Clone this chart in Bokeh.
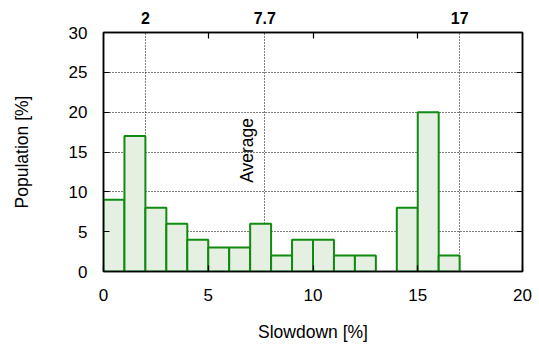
import math

from bokeh.core.properties import value
from bokeh.embed import file_html
from bokeh.models import ColumnDataSource, FixedTicker, LinearAxis, Range1d
from bokeh.plotting import figure
from bokeh.resources import INLINE

# Histogram of slowdown: 1 %-wide bins starting at these left edges
bin_left = list(range(0, 17))
population = [9, 17, 8, 6, 4, 3, 3, 6, 2, 4, 4, 2, 2, 0, 8, 20, 2]

# Marked slowdown values shown on the top axis
marks = [2, 7.7, 17]
mark_labels = ["2", "7.7", "17"]

x_ticks = [0, 5, 10, 15, 20]
y_ticks = [0, 5, 10, 15, 20, 25, 30]

avg_label_x = 6.85
avg_label_y = 15.2

FONT = "Liberation Sans"
TICK_SIZE = "17px"
TITLE_SIZE = "17.5px"

# empty bins are left out so no outline is drawn along the axis
kept = [(l, v) for l, v in zip(bin_left, population) if v > 0]
src = ColumnDataSource(dict(
    left=[l for l, _ in kept],
    right=[l + 1 for l, _ in kept],
    top=[v for _, v in kept],
    bottom=[0] * len(kept),
))

p = figure(
    width=539, height=347,
    output_backend="svg", toolbar_location=None,
    x_range=Range1d(0, 20), y_range=Range1d(0, 30),
    x_axis_location="below", y_axis_location="left",
    min_border_left=103, min_border_right=17,
    min_border_top=32, min_border_bottom=76,
)
p.background_fill_color = "white"
p.border_fill_color = "white"
p.outline_line_color = "black"
p.outline_line_width = 1.5

p.quad(left="left", right="right", top="top", bottom="bottom", source=src,
       fill_color="#e5f0e3", line_color="#108a10", line_width=2)

p.text(x=[avg_label_x], y=[avg_label_y], text=["Average"], angle=math.pi / 2,
       text_align="center", text_baseline="middle",
       text_font=value(FONT), text_font_size=TITLE_SIZE, text_color="black")


def style_axis(ax):
    ax.axis_line_color = "black"
    ax.axis_line_width = 1.5
    ax.major_tick_line_color = "black"
    ax.major_tick_line_width = 1.2
    ax.major_tick_in = 6
    ax.major_tick_out = 0
    ax.minor_tick_line_color = None
    ax.major_label_text_font = FONT
    ax.major_label_text_font_size = TICK_SIZE
    ax.major_label_text_color = "black"
    ax.axis_label_text_font = FONT
    ax.axis_label_text_font_size = TITLE_SIZE
    ax.axis_label_text_font_style = "normal"
    ax.axis_label_text_color = "black"


# bottom axis
bx = p.xaxis[0]
bx.ticker = FixedTicker(ticks=x_ticks)
style_axis(bx)
bx.major_label_standoff = 17
bx.axis_label = "Slowdown [%]"
bx.axis_label_standoff = 18

# left axis
ly = p.yaxis[0]
ly.ticker = FixedTicker(ticks=y_ticks)
style_axis(ly)
ly.major_label_standoff = 16
ly.axis_label = "Population [%]"
ly.axis_label_standoff = 34

# right axis: ticks only, no labels
ry = LinearAxis(ticker=FixedTicker(ticks=y_ticks),
                major_label_overrides={t: "" for t in y_ticks})
style_axis(ry)
ry.major_label_standoff = 0
p.add_layout(ry, "right")

# top axis: bold marks with plain ticks every 5 %
tx = LinearAxis(ticker=FixedTicker(ticks=marks, minor_ticks=[5, 10, 15]),
                major_label_overrides={m: t for m, t in zip(marks, mark_labels)})
style_axis(tx)
tx.major_tick_in = 0
tx.minor_tick_line_color = "black"
tx.minor_tick_line_width = 1.2
tx.minor_tick_in = 6
tx.minor_tick_out = 0
tx.major_label_text_font_style = "bold"
tx.major_label_text_font_size = "16px"
tx.major_label_standoff = 9
p.add_layout(tx, "above")

# dotted guides: horizontal at the y ticks, vertical at the marks
p.xgrid.ticker = FixedTicker(ticks=marks)
p.ygrid.ticker = FixedTicker(ticks=[5, 10, 15, 20, 25])
for g in (p.xgrid[0], p.ygrid[0]):
    g.grid_line_color = "black"
    g.grid_line_width = 1
    g.grid_line_dash = "1 2"

open("out.html", "w").write(file_html(p, INLINE))
